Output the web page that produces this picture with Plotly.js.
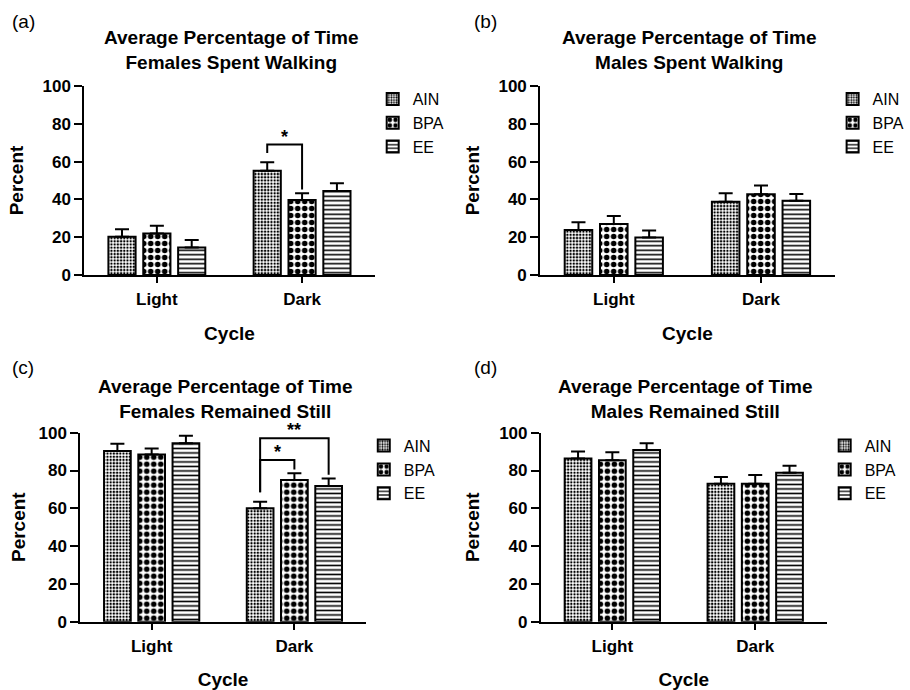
<!DOCTYPE html>
<html>
<head>
<meta charset="utf-8">
<script src="https://cdn.plot.ly/plotly-3.0.1.min.js"></script>
<style>html,body{margin:0;padding:0;background:#fff;}#chart{width:910px;height:690px;}</style>
</head>
<body>
<div id="chart"></div>
<script>
// ---- data ----
const categories = ['Light', 'Dark'];
const groups = ['AIN', 'BPA', 'EE'];

// (a) females walking
const fwAIN = [20.3, 55.2], fwAINerr = [3.9, 4.4];
const fwBPA = [22.0, 39.7], fwBPAerr = [4.0, 3.5];
const fwEE  = [14.5, 44.4], fwEEerr  = [4.0, 4.1];
// (b) males walking
const mwAIN = [23.8, 38.8], mwAINerr = [4.1, 4.4];
const mwBPA = [27.0, 42.7], mwBPAerr = [4.2, 4.6];
const mwEE  = [19.9, 39.3], mwEEerr  = [3.6, 3.6];
// (c) females still
const fsAIN = [90.3, 60.0], fsAINerr = [3.9, 3.5];
const fsBPA = [88.5, 75.0], fsBPAerr = [3.2, 3.5];
const fsEE  = [94.4, 71.8], fsEEerr  = [4.0, 4.0];
// (d) males still
const msAIN = [86.4, 73.0], msAINerr = [3.6, 3.5];
const msBPA = [85.4, 73.0], msBPAerr = [4.2, 4.6];
const msEE  = [90.8, 78.8], msEEerr  = [3.6, 3.7];

const panelLetters = ['(a)', '(b)', '(c)', '(d)'];
const panelTitles = [
  'Average Percentage of Time<br>Females Spent Walking',
  'Average Percentage of Time<br>Males Spent Walking',
  'Average Percentage of Time<br>Females Remained Still',
  'Average Percentage of Time<br>Males Remained Still'
];
const yTitle = 'Percent';
const xTitle = 'Cycle';
const yTicks = [0, 20, 40, 60, 80, 100];

// significance brackets
const sigPanel = [0, 2, 2];
const sigCat   = [1, 1, 1];
const sigFrom  = [0, 0, 0];
const sigTo    = [1, 1, 2];
const sigLevel = [69, 85.5, 97];
const sigLabel = ['*', '*', '**'];

// ---- build ----
const W = 910, H = 690;
const FONT = 'Liberation Sans, Arial, Helvetica, sans-serif';
const panelData = [
  [[fwAIN, fwAINerr], [fwBPA, fwBPAerr], [fwEE, fwEEerr]],
  [[mwAIN, mwAINerr], [mwBPA, mwBPAerr], [mwEE, mwEEerr]],
  [[fsAIN, fsAINerr], [fsBPA, fsBPAerr], [fsEE, fsEEerr]],
  [[msAIN, msAINerr], [msBPA, msBPAerr], [msEE, msEEerr]]
];
// pixel boxes of plot areas [left, right, top, bottom]
const boxes = [
  [85, 378, 86, 275],
  [545, 842, 86, 275],
  [81, 369, 432.7, 621.7],
  [545.7, 834, 432.7, 621.7]
];
const yStandoff = [14, 14, 8, 14];
const patterns = [
  {shape: '.', size: 3.2, solidity: 0.45, fgcolor: '#000', bgcolor: '#fff'},
  {shape: '.', size: 7, solidity: 0.5, fgcolor: '#000', bgcolor: '#fff'},
  {shape: '-', size: 4.5, solidity: 0.35, fgcolor: '#000', bgcolor: '#fff'}
];
const bargap = 0.28, bargroupgap = 0.22;
const slot = (1 - bargap) / groups.length;
const xIdx = categories.map((c, i) => i);

const traces = [];
const layout = {
  width: W, height: H,
  margin: {l: 0, r: 0, t: 0, b: 0, pad: 0},
  paper_bgcolor: '#fff', plot_bgcolor: '#fff',
  barmode: 'group', bargap: bargap, bargroupgap: bargroupgap,
  font: {family: FONT, color: '#000'},
  showlegend: true,
  annotations: [], shapes: []
};

panelData.forEach((pd, p) => {
  const sfx = p === 0 ? '' : String(p + 1);
  const b = boxes[p];
  pd.forEach((g, gi) => {
    traces.push({
      type: 'bar', x: xIdx, y: g[0], name: groups[gi],
      xaxis: 'x' + sfx, yaxis: 'y' + sfx,
      legend: 'legend' + sfx,
      marker: {color: '#fff', line: {color: '#000', width: 2}, pattern: patterns[gi]},
      error_y: {type: 'data', array: g[1], arrayminus: g[1].map(() => 0), symmetric: false,
                color: '#000', thickness: 2, width: 7},
      hoverinfo: 'skip'
    });
  });
  layout['xaxis' + sfx] = {
    domain: [b[0] / W, b[1] / W], anchor: 'y' + sfx,
    range: [-0.5, 1.5], tickvals: xIdx, ticktext: categories,
    showline: true, linecolor: '#000', linewidth: 2, mirror: false,
    ticks: 'outside', ticklen: 6, tickwidth: 2, tickcolor: '#000',
    ticklabelstandoff: 2,
    showgrid: false, zeroline: false, fixedrange: true,
    tickfont: {family: FONT, size: 17, weight: 'bold', color: '#000'},
    title: {text: xTitle, standoff: 18, font: {family: FONT, size: 19, weight: 'bold', color: '#000'}}
  };
  layout['yaxis' + sfx] = {
    domain: [1 - b[3] / H, 1 - b[2] / H], anchor: 'x' + sfx,
    range: [0, 100], tickvals: yTicks,
    showline: true, linecolor: '#000', linewidth: 2,
    ticks: 'outside', ticklen: 8, tickwidth: 2, tickcolor: '#000',
    showgrid: false, zeroline: false, fixedrange: true,
    tickfont: {family: FONT, size: 17, weight: 'bold', color: '#000'},
    title: {text: yTitle, standoff: yStandoff[p], font: {family: FONT, size: 19, weight: 'bold', color: '#000'}}
  };
  layout['legend' + sfx] = {
    x: (b[1] - 2) / W, y: 1 - (b[2] - 4) / H, xanchor: 'left', yanchor: 'top',
    font: {family: FONT, size: 16, color: '#000'},
    bgcolor: 'rgba(0,0,0,0)', borderwidth: 0, tracegroupgap: 0, itemclick: false
  };
  layout.annotations.push({
    xref: 'paper', yref: 'paper', x: (p % 2 === 0 ? 10 : 476) / W, y: 1 - (p < 2 ? 22 : 367) / H,
    xanchor: 'left', yanchor: 'middle', showarrow: false, text: panelLetters[p],
    font: {family: FONT, size: 19, color: '#000'}
  });
  layout.annotations.push({
    xref: 'paper', yref: 'paper', x: ((b[0] + b[1]) / 2 + 2) / W, y: 1 - (p < 2 ? 50 : 399) / H,
    xanchor: 'center', yanchor: 'middle', showarrow: false, text: '<b>' + panelTitles[p] + '</b>',
    font: {family: FONT, size: 19, color: '#000'}, align: 'center'
  });
});

sigPanel.forEach((p, k) => {
  const sfx = p === 0 ? '' : String(p + 1);
  const c = sigCat[k];
  const x0 = xIdx[c] + (sigFrom[k] - 1) * slot;
  const x1 = xIdx[c] + (sigTo[k] - 1) * slot;
  const g0 = panelData[p][sigFrom[k]], g1 = panelData[p][sigTo[k]];
  const yb0 = g0[0][c] + g0[1][c] + 5;
  const yb1 = g1[0][c] + g1[1][c] + 2;
  const lv = sigLevel[k];
  layout.shapes.push({
    type: 'path', xref: 'x' + sfx, yref: 'y' + sfx,
    path: `M${x0},${yb0} L${x0},${lv} L${x1},${lv} L${x1},${yb1}`,
    line: {color: '#000', width: 2}
  });
  layout.annotations.push({
    xref: 'x' + sfx, yref: 'y' + sfx, x: (x0 + x1) / 2, y: lv,
    yanchor: 'bottom', yshift: -4, showarrow: false, text: '<b>' + sigLabel[k] + '</b>',
    font: {family: FONT, size: 18, color: '#000'}
  });
});

Plotly.newPlot('chart', traces, layout, {displayModeBar: false, staticPlot: true});
</script>
</body>
</html>
